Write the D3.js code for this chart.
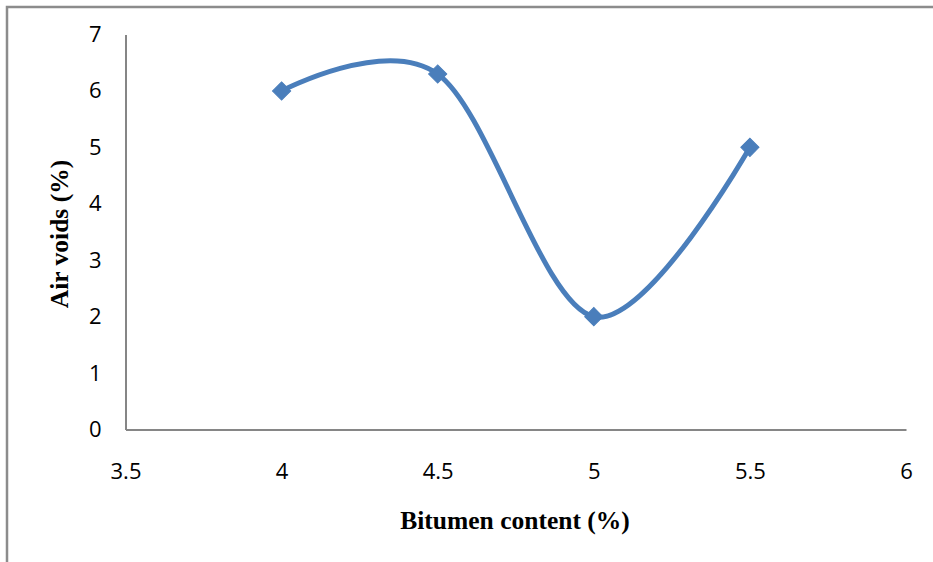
<!DOCTYPE html>
<html>
<head>
<meta charset="utf-8">
<script src="https://cdn.jsdelivr.net/npm/d3@7"></script>
<style>
  html, body { margin: 0; padding: 0; background: #fff; }
  svg { display: block; }
</style>
</head>
<body>
<div id="chart"></div>
<script>
// Air voids measured against bitumen content
const bitumenContent = [4, 4.5, 5, 5.5];
const airVoids = [6, 6.3, 2, 5];
const xTicks = [3.5, 4, 4.5, 5, 5.5, 6];
const yTicks = [0, 1, 2, 3, 4, 5, 6, 7];

const W = 933, H = 562;
const svg = d3.select("#chart").append("svg")
  .attr("width", W).attr("height", H);

// outer frame of the chart object (only top and left edges are inside the window)
svg.append("path")
  .attr("d", "M7,562 V7 H933")
  .attr("fill", "none")
  .attr("stroke", "#8c8c8c")
  .attr("stroke-width", 2.5);

const x = d3.scaleLinear().domain([3.5, 6]).range([125.5, 906]);
const y = d3.scaleLinear().domain([0, 7]).range([429.5, 34.5]);

const tickFont = "'Open Sans', 'Noto Sans', sans-serif";

// x axis
const xAxis = svg.append("g")
  .attr("transform", `translate(0,${y(0)})`)
  .call(d3.axisBottom(x).tickValues(xTicks).tickSize(0).tickPadding(34)
    .tickFormat(d => String(d)));
xAxis.attr("font-size", null).attr("font-family", null);
xAxis.select(".domain").attr("stroke", "#868686").attr("stroke-width", 2);
xAxis.selectAll("text")
  .style("font-family", tickFont).style("font-size", "22px").attr("fill", "#000");

// y axis
const yAxis = svg.append("g")
  .attr("transform", `translate(${x(3.5)},0)`)
  .call(d3.axisLeft(y).tickValues(yTicks).tickSize(0).tickPadding(24)
    .tickFormat(d3.format("d")));
yAxis.attr("font-size", null).attr("font-family", null);
yAxis.select(".domain").attr("stroke", "#868686").attr("stroke-width", 2);
yAxis.selectAll("text")
  .style("font-family", tickFont).style("font-size", "22px").attr("fill", "#000");

// axis titles
svg.append("text")
  .attr("x", 515).attr("y", 529)
  .attr("text-anchor", "middle")
  .attr("font-family", "'Liberation Serif', 'Times New Roman', serif")
  .attr("font-weight", "bold").attr("font-size", 25.5)
  .text("Bitumen content (%)");

svg.append("text")
  .attr("transform", "translate(68,234) rotate(-90)")
  .attr("text-anchor", "middle")
  .attr("font-family", "'Liberation Serif', 'Times New Roman', serif")
  .attr("font-weight", "bold").attr("font-size", 25.5)
  .text("Air voids (%)");

// smoothed series line
const pts = bitumenContent.map((b, i) => [b, airVoids[i]]);
const line = d3.line()
  .x(d => x(d[0])).y(d => y(d[1]))
  .curve(d3.curveCardinal.tension(0));

const color = "#4a7ebb";
svg.append("path")
  .datum(pts)
  .attr("d", line)
  .attr("fill", "none")
  .attr("stroke", color)
  .attr("stroke-width", 5)
  .attr("stroke-linejoin", "round");

// diamond markers
const diamond = d3.symbol().type(d3.symbolSquare).size(165);
svg.selectAll(".marker")
  .data(pts)
  .join("path")
  .attr("class", "marker")
  .attr("d", diamond)
  .attr("transform", d => `translate(${x(d[0])},${y(d[1])}) rotate(45)`)
  .attr("fill", color)
  .attr("stroke", color)
  .attr("stroke-width", 1);
</script>
</body>
</html>
